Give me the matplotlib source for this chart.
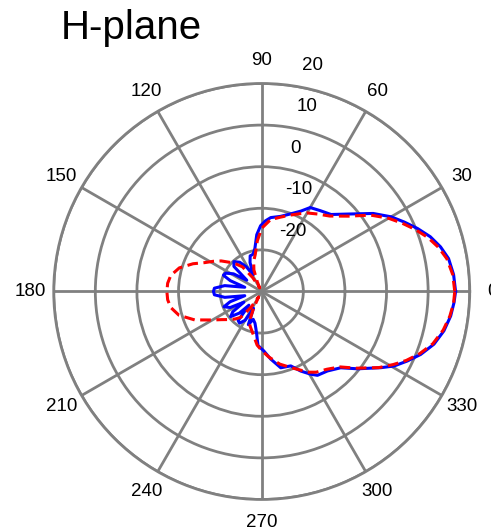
import numpy as np
import matplotlib
matplotlib.use("Agg")
import matplotlib.pyplot as plt

plt.rcParams['font.family'] = ['Liberation Sans', 'DejaVu Sans']

# measured pattern (blue, solid)
meas_deg = [0, 5, 10, 14, 18, 22, 26, 30, 35, 41, 48, 54, 60, 64, 70, 76, 83, 87, 91, 95,
            99, 103, 108, 112, 117, 122, 127, 133, 138, 143, 148, 153, 157, 161, 166, 171,
            176, 180, 184, 189, 194, 198, 202, 207, 211, 215, 219, 224, 227, 231, 235, 240,
            244, 248, 253, 258, 261, 263.5, 266, 272, 277.6, 284, 291.3, 296.1, 300.6, 303.6,
            309.6, 316, 321.1, 327.4, 330.6, 334.5, 338.4, 343, 347.8, 352.6, 356.7, 360]
meas_db = [16.6, 16.3, 15.6, 14.3, 12.6, 10.4, 8.1, 5.9, 2.7, -1.6, -5.1, -6.0, -6.7, -8.5,
           -10.2, -11.4, -12.1, -13.0, -14.2, -16.3, -19.5, -20.8, -21.0, -22.5, -25.5, -23.0,
           -21.2, -20.2, -21.0, -25.5, -22.0, -20.3, -20.0, -22.0, -25.8, -21.0, -18.6, -18.4,
           -18.6, -21.0, -25.8, -22.0, -20.2, -21.5, -25.0, -21.5, -20.4, -22.5, -25.5, -21.0,
           -20.7, -22.0, -25.5, -21.4, -23.0, -22.2, -21.0, -19.5, -17.0, -15.7, -13.6, -11.1,
           -10.8, -8.7, -6.9, -5.8, -5.2, -3.6, -0.4, 4.0, 6.5, 8.8, 11.1, 13.3, 14.8, 15.8,
           16.3, 16.6]

# simulated pattern (red, dashed)
sim_deg = [0, 5, 10, 14, 18, 22, 26, 30, 35, 41, 48, 54, 60, 64, 70, 76, 83, 90, 95, 100,
           105, 110, 115, 119, 123, 128, 133, 138, 143, 148, 153, 158, 164, 170, 175, 180,
           185, 190, 196, 203, 210, 215, 220, 226, 231, 236, 240, 244, 247, 251, 259, 265,
           270, 276, 284, 291, 296, 300, 304, 310, 316, 321, 327, 331, 334.5, 338.5, 343,
           348, 352.5, 356.5, 360]
sim_db = [16.4, 16.1, 15.2, 13.8, 12.0, 9.8, 7.5, 5.2, 2.0, -2.4, -5.6, -7.0, -8.2, -9.2,
          -10.5, -11.6, -12.6, -14.8, -17.8, -21.0, -22.5, -24.5, -27.5, -29.0, -26.0, -22.5,
          -21.0, -19.5, -17.8, -16.3, -14.7, -12.2, -9.4, -7.8, -7.3, -7.2, -7.3, -7.8, -9.3,
          -12.5, -16.3, -18.2, -19.5, -20.8, -22.0, -25.5, -28.5, -25.5, -23.0, -21.3, -19.4,
          -17.1, -15.8, -14.2, -12.0, -10.4, -9.0, -7.6, -6.6, -5.6, -3.9, -0.7, 3.6, 6.2, 8.5,
          10.8, 13.0, 14.6, 15.6, 16.2, 16.4]

r_ticks = [-20, -10, 0, 10, 20]
theta_ticks = list(range(0, 360, 30))
theta_labels = [str(t) for t in theta_ticks]

gray = '#808080'

fig = plt.figure(figsize=(4.91, 5.29), dpi=100)
ax = fig.add_axes([0.1094, 0.0558, 0.8473, 0.7864], projection='polar')

ax.plot(np.deg2rad(meas_deg), meas_db, color='#0000ff', lw=2.2, zorder=3)
ax.plot(np.deg2rad(sim_deg), sim_db, color='#ff0000', lw=2.2, ls=(0, (3.5, 1.8)), zorder=4)

ax.set_rlim(-30, 20)
ax.set_rticks(r_ticks)
ax.set_yticklabels([])
ax.set_thetagrids(theta_ticks, theta_labels, fontsize=13.5)
ax.tick_params(axis='x', pad=6)
ax.grid(True, color=gray, lw=2)
ax.spines['polar'].set_color(gray)
ax.spines['polar'].set_linewidth(2)

# radial labels sit just outside each ring, towards the upper right
for v in r_ticks:
    R = v + 30
    dx = 2.8 + 0.138 * R
    dy = R + 4.4
    ax.text(np.arctan2(dy, dx), -30 + np.hypot(dx, dy), str(v), fontsize=13.5,
            ha='left', va='center', clip_on=False)

fig.text(61 / 491, 1 - 39.3 / 529, 'H-plane', fontsize=29, ha='left', va='baseline')

fig.savefig('out.png', dpi=100)
